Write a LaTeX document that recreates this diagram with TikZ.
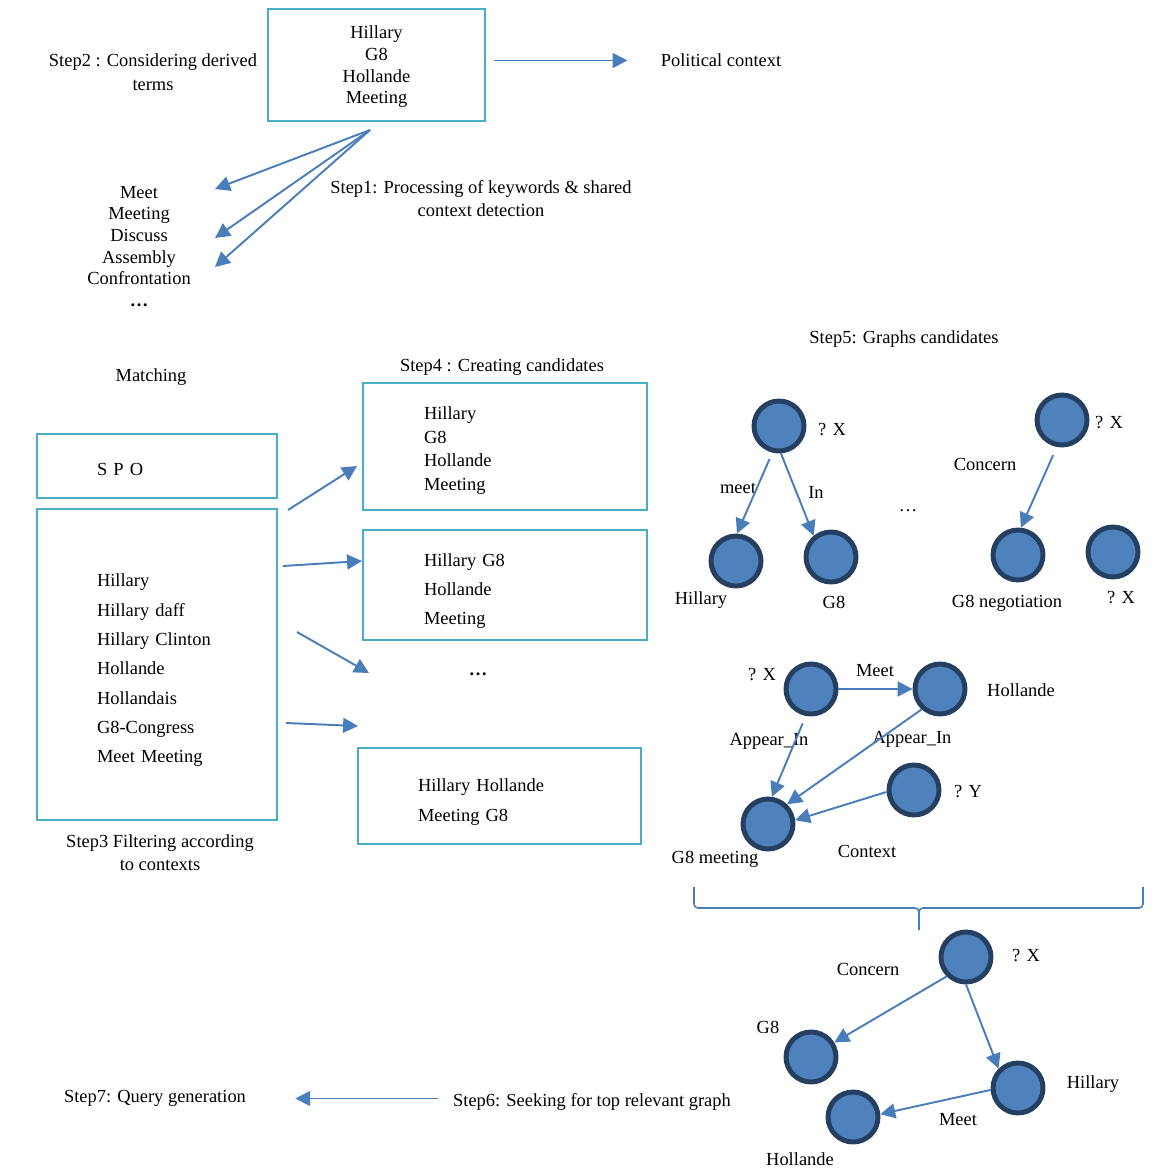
\documentclass[tikz,border=0pt]{standalone}
\usepackage{fontspec}
\setmainfont{Liberation Serif}
\usepackage{tikz}
\usetikzlibrary{arrows.meta,positioning}
\definecolor{boxcol}{HTML}{4BACC6}
\definecolor{arrcol}{HTML}{4A7EBB}
\definecolor{vfill}{HTML}{4F81BD}
\definecolor{vline}{HTML}{243F60}
\newcommand\lift[1]{\rule{0pt}{#1}}

\begin{document}
\begin{tikzpicture}[x=0.02cm, y=-0.02cm,
	txt/.style={font=\fontsize{10.5}{13}\selectfont, inner sep=0, align=center, yshift=-0.03cm},
	frame/.style={draw=boxcol, line width=1.5pt, inner sep=0, align=left},
	arr/.style={draw=arrcol, line width=1.1pt, -{Triangle[length=8.5pt, width=8.5pt]}},
	vert/.style={circle, draw=vline, fill=vfill, line width=2.8pt, minimum size=1cm, inner sep=0},
	lbl/.style={font=\fontsize{10.5}{13}\selectfont, inner sep=0, yshift=-0.03cm},
	brc/.style={draw=arrcol, line width=0.9pt, rounded corners=0.08cm}
]
\useasboundingbox (0,0) rectangle (1172,1169);

% step 1 and 2
\node[frame, align=center, minimum width=4.34cm, minimum height=2.24cm, font=\fontsize{10.5}{12.3}\selectfont] (kw) at (376.5,65) {\lift{9.5pt}Hillary\\G8\\Hollande\\Meeting};
\node[txt, font=\fontsize{10.5}{13.6}\selectfont] (step2) at (153,71) {Step2 : Considering derived\\terms};
\node[txt] (pol) at (721,59) {Political context};
\draw[arr, shorten <=0.16cm, shorten >=0.66cm] (kw.east |- pol) -- (pol.west);
\node[txt, font=\fontsize{10.5}{12.3}\selectfont] (derived) at (139,245) {Meet\\Meeting\\Discuss\\Assembly\\Confrontation\\\textbf{\ldots}};
\node[txt, font=\fontsize{10.5}{13}\selectfont] (step1) at (481,197.5) {Step1: Processing of keywords \& shared\\context detection};
\coordinate (fan) at (370,130);
\foreach \n/\y in {1/189,2/238,3/267} {
	\coordinate (tip\n) at (215,\y);
	\draw[arr] (fan) -- (tip\n);
}

% step 3 and 4
\node[txt] (step5) at (904,338) {Step5: Graphs candidates};
\node[txt] (match) at (151,376) {Matching};
\node[txt] (step4) at (502,366) {Step4 : Creating candidates};
\node[frame, minimum width=4.8cm, minimum height=1.28cm, text width=2.4cm, font=\fontsize{10.5}{13}\selectfont] (spo) at (157,466) {\lift{10.5pt}S P O};
\node[frame, minimum width=4.8cm, minimum height=6.22cm, text width=2.4cm, font=\fontsize{10.5}{16.7}\selectfont] (filt) at (157,664.5) {\lift{14pt}Hillary\\Hillary daff\\Hillary Clinton\\Hollande\\Hollandais\\G8-Congress\\Meet Meeting};
\node[txt] (step3) at (160,851.5) {Step3 Filtering according\\to contexts};
\node[frame, minimum width=5.68cm, minimum height=2.54cm, text width=3.24cm, font=\fontsize{10.5}{13.4}\selectfont] (cand1) at (505,446.5) {\lift{11.7pt}Hillary\\G8\\Hollande\\Meeting};
\node[frame, minimum width=5.68cm, minimum height=2.2cm, text width=3.24cm, font=\fontsize{10.5}{16.4}\selectfont] (cand2) at (505,585) {\lift{14pt}Hillary G8\\Hollande\\Meeting};
\node[txt] (cdots) at (478,673) {\textbf{\ldots}};
\node[frame, minimum width=5.66cm, minimum height=1.92cm, text width=3.26cm, font=\fontsize{10.5}{17}\selectfont] (cand3) at (499.5,796) {\lift{14pt}Hillary Hollande\\Meeting G8};
\foreach \n/\a/\b/\c/\d in {1/288/510/357/466, 2/283/566/362/561, 3/297/632/369/673, 4/286/723/358/726} {
	\coordinate (from\n) at (\a,\b);
	\coordinate (to\n) at (\c,\d);
	\draw[arr] (from\n) -- (to\n);
}

% step 5: graph candidates
\node[vert] (ax) at (779,426) {};
\node[vert] (ahil) at (736,561) {};
\node[vert] (ag8) at (831,557) {};
\node[lbl] (axl) at (832,428) {? X};
\node[lbl] (ahill) at (701,599) {Hillary};
\node[lbl] (ag8l) at (834,601) {G8};
\node[lbl] (ameet) at (738,487) {meet};
\node[lbl] (ain) at (816,491) {In};
\draw[arr, shorten <=0.14cm] (ax.-104) -- (ahil.88);
\draw[arr] (ax.-86) -- (ag8.129);
\node[lbl] (gdots) at (908,509) {\ldots};

\node[vert] (bx) at (1062,420) {};
\node[vert] (bneg) at (1018,555) {};
\node[vert] (bx2) at (1113,552) {};
\node[lbl] (bxl) at (1109,421) {? X};
\node[lbl] (bnegl) at (1007,602) {G8 negotiation};
\node[lbl] (bx2l) at (1121,596) {? X};
\node[lbl] (bcon) at (985,463) {Concern};
\draw[arr, shorten <=0.18cm] (bx.-101) -- (bneg.84);

\node[vert] (cx) at (811,689) {};
\node[vert] (chol) at (940,689) {};
\node[vert] (cg8) at (768,824) {};
\node[vert] (cy) at (914,790) {};
\node[lbl] (cxl) at (762,673) {? X};
\node[lbl] (chloll) at (1021,689) {Hollande};
\node[lbl] (cg8l) at (715,858) {G8 meeting};
\node[lbl] (cyl) at (968,790) {? Y};
\node[lbl] (cmeet) at (875,669) {Meet};
\node[lbl] (capp1) at (769,740) {Appear\_In};
\node[lbl] (capp2) at (912,738) {Appear\_In};
\node[lbl] (cctx) at (867,850) {Context};
\draw[arr] (cx) -- (chol);
\draw[arr, shorten <=0.16cm] (cx.-101) -- (cg8.82);
\draw[arr] (chol.-132) -- (cg8.46);
\draw[arr] (cy.-176) -- (cg8.8);

\coordinate (bl) at (694,887);
\coordinate (br) at (1143,887);
\coordinate (bmid) at (919,908);
\coordinate (btip) at (919,930);
\draw[brc] (bl) |- (bmid) -- (btip) (br) |- (bmid) -- (btip);

% step 6 and 7
\node[vert] (dx) at (966,957) {};
\node[vert] (dg8) at (811,1057) {};
\node[vert] (dhil) at (1018,1088) {};
\node[vert] (dhol) at (853,1117) {};
\node[lbl] (dxl) at (1026,954) {? X};
\node[lbl] (dg8l) at (768,1026) {G8};
\node[lbl] (dhill) at (1093,1083) {Hillary};
\node[lbl] (dholl) at (800,1158) {Hollande};
\node[lbl] (dcon) at (868,968) {Concern};
\node[lbl] (dmeet) at (958,1118) {Meet};
\draw[arr] (dx.-135) -- (dg8.32);
\draw[arr] (dx.-90) -- (dhil.135);
\draw[arr] (dhil.-176) -- (dhol.6);

\node[txt] (step7) at (155,1097) {Step7: Query generation};
\node[txt] (step6) at (592,1100) {Step6: Seeking for top relevant graph};
\draw[arr, shorten <=0.3cm, shorten >=0.98cm] (step6.west |- step7.east) -- (step7.east);
\end{tikzpicture}
\end{document}
